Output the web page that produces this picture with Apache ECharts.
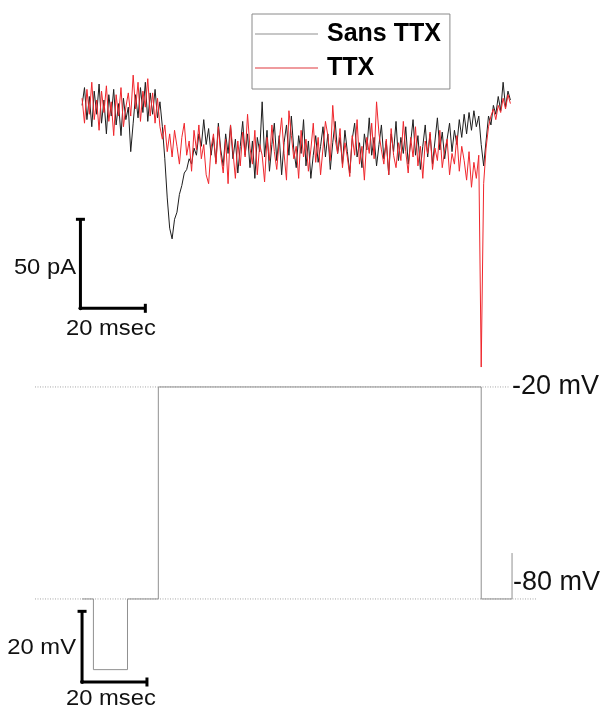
<!DOCTYPE html>
<html>
<head>
<meta charset="utf-8">
<style>
  html, body { margin: 0; padding: 0; background: #fff; }
  #chart { width: 603px; height: 709px; }
</style>
<script src="https://cdn.jsdelivr.net/npm/echarts@6/dist/echarts.min.js"></script>
</head>
<body>
<div id="chart"></div>
<script>
// ---- data ----
const seriesNames = ['Sans TTX', 'TTX'];
const sampleStepMs = 0.75; // sampling interval of the current traces (ms)

// membrane current, pA (black trace, without TTX)
const sansTTX = [
  14, 24, 6, 19, 2, 22, 9, 26, 4, 17,
  -2, 20, 8, 23, 3, 15, -3, 18, 6, 13,
  -12, 4, 20, 7, 24, 10, 27, 5, 21, 9,
  23, 7, 16, 2, -16, -38, -55, -61, -50, -46,
  -36, -31, -24, -22, -16, -19, -10, -14, -2, -9,
  6, -8, 1, -14, -4, -18, 4, -11, -20, -2,
  -13, 3, -16, -5, -24, -9, 5, -14, -2, -21,
  -6, -27, -4, -12, 16, -15, 0, -23, -8, 4,
  -17, -3, -25, -7, 3, -14, 8, -11, -21, -3,
  -13, 6, -20, -6, -27, -14, -3, -18, -9, 2,
  -15, -2, -22, -7, 5, -13, -4, -19, 0, -12,
  -24, -5, 4, -15, -7, -21, -2, -11, 7, -14,
  -4, -20, -8, 3, -16, -6, -25, -2, -12, 5,
  -17, -4, -13, 2, -19, -7, 6, -14, -3, -22,
  -9, 3, -15, -2, -19, -6, 7, -11, -1, -16,
  -5, 4, -12, 0, -8, 6, -4, 9, -2, 10,
  0, 11, 2, 8, -8, -20, -6, 8, 3, 14,
  9, 19, 11, 27, 13, 22, 17
];

// membrane current, pA (red trace, with TTX)
const withTTX = [
  18, 4, 23, 9, 27, 6, 17, 0, 22, 10,
  25, 5, 16, -3, 20, 8, 24, 2, 13, 21,
  8, 31, 12, 27, 5, 22, 13, 29, 8, 21,
  4, 18, 2, -5, 3, -12, -2, -15, 0, -9,
  -19, -4, 4, -14, -6, -23, 0, -11, 3, -16,
  -8, -25, -30, -10, -2, -19, 2, -14, -24, -5,
  -30, 3, -12, -27, -6, -20, -1, -15, 9, -10,
  -19, 0, -25, -8, -14, -29, -4, -17, 3, -12,
  -22, -6, 7, -13, -28, 11, -3, -16, -9, -27,
  0, -15, -5, -23, -11, 4, -18, -4, -25, -10,
  5, -3, -17, 14, -5, -13, 1, -21, -7, -15,
  -26, -3, -14, 6, -19, -9, -28, -4, -13, 4,
  -16, 16, -2, -11, -19, -5, -25, 1, -14, -21,
  -7, -17, 5, -12, -24, -4, -15, 2, -20, -9,
  -27, -6, -13, -1, -22, -10, -17, 0, -21, -11,
  -5, -25, -13, -19, -3, -23, -9, -17, -28, -12,
  -32, -18, -27, -14, -133, -30, -10, 2, 8, 12,
  6, 14, 10, 18, 12, 20, 15
];

// voltage protocol (ms, mV)
const stepTimes = [0, 3.5, 3.5, 14, 14, 23.5, 23.5, 123, 123, 132.5, 132.5];
const stepVolts = [-80, -80, -100, -100, -80, -80, -20, -20, -80, -80, -67];

// dotted holding-level guides
const guideLevels = [-20, -80];
const guideStart = [-14.5, -14.5];
const guideEnd = [131.9, 140.2];

// scale bars
const currentBarPA = 50, currentBarMs = 20;
const voltBarMV = 20, voltBarMs = 20;

// text labels
const levelLabels = ['-20 mV', '-80 mV'];
const currentBarLabels = ['50 pA', '20 msec'];
const voltBarLabels = ['20 mV', '20 msec'];

// ---- build ----
const blackData = sansTTX.map((v, i) => [i * sampleStepMs, v]);
const redData = withTTX.map((v, i) => [i * sampleStepMs, v]);
const stepData = stepTimes.map((t, i) => [t, stepVolts[i]]);

const FONT = "'Liberation Sans', Arial, sans-serif";

const chart = echarts.init(document.getElementById('chart'), null, { renderer: 'canvas' });

const xCommon = { type: 'value', min: -14.5, max: 145, show: false };

const option = {
  animation: false,
  backgroundColor: '#fff',
  grid: [
    { left: 35, width: 517.6, top: 68, height: 311.5 },
    { left: 35, width: 517.6, top: 369.3, bottom: 21.7 }
  ],
  xAxis: [
    Object.assign({ gridIndex: 0 }, xCommon),
    Object.assign({ gridIndex: 1 }, xCommon)
  ],
  yAxis: [
    { gridIndex: 0, type: 'value', min: -140, max: 35, show: false },
    { gridIndex: 1, type: 'value', min: -105, max: -15, show: false }
  ],
  legend: {
    data: [
      { name: seriesNames[0], itemStyle: { color: '#b4b4b4' } },
      { name: seriesNames[1], itemStyle: { color: '#ea7a7e' } }
    ],
    orient: 'vertical',
    left: 252,
    top: 14,
    icon: 'rect',
    itemWidth: 63,
    itemHeight: 1.5,
    itemGap: 9,
    padding: [7.5, 9, 8.5, 3],
    borderColor: '#8a8a8a',
    borderWidth: 1,
    textStyle: {
      fontFamily: FONT, fontSize: 25, fontWeight: 'bold', color: '#000',
      lineHeight: 25, padding: [0, 0, 0, 4]
    }
  },
  series: [
    {
      name: seriesNames[0], type: 'line', xAxisIndex: 0, yAxisIndex: 0,
      data: blackData, symbol: 'none', smooth: false,
      lineStyle: { color: '#1e1e1e', width: 1 }, itemStyle: { color: '#1e1e1e' }, z: 3
    },
    {
      name: seriesNames[1], type: 'line', xAxisIndex: 0, yAxisIndex: 0,
      data: redData, symbol: 'none', smooth: false,
      lineStyle: { color: '#f0262c', width: 1 }, itemStyle: { color: '#f0262c' }, z: 4
    },
    {
      name: 'currentBar', type: 'line', xAxisIndex: 0, yAxisIndex: 0,
      data: [
        { value: [-0.5, -100 + currentBarPA], symbol: 'rect', symbolSize: [9, 3] },
        { value: [-0.5, -100], symbol: 'circle', symbolSize: 4 },
        { value: [-0.5 + currentBarMs, -100], symbol: 'rect', symbolSize: [3, 9] }
      ],
      showSymbol: true, lineStyle: { color: '#000', width: 3 }, itemStyle: { color: '#000' }, z: 5
    },
    ...guideLevels.map((lv, k) => ({
      name: 'guide' + k, type: 'line', xAxisIndex: 1, yAxisIndex: 1,
      data: [[guideStart[k], lv], [guideEnd[k], lv]], symbol: 'none',
      lineStyle: { color: '#a6a6a6', width: 1, type: [1, 1.5] }, z: 2
    })),
    {
      name: 'step', type: 'line', xAxisIndex: 1, yAxisIndex: 1,
      data: stepData, symbol: 'none',
      lineStyle: { color: '#909090', width: 1 }, z: 3
    },
    {
      name: 'voltBar', type: 'line', xAxisIndex: 1, yAxisIndex: 1,
      data: [
        { value: [0, -103.5 + voltBarMV], symbol: 'rect', symbolSize: [9, 3] },
        { value: [0, -103.5], symbol: 'circle', symbolSize: 4 },
        { value: [voltBarMs, -103.5], symbol: 'rect', symbolSize: [3, 9] }
      ],
      showSymbol: true, lineStyle: { color: '#000', width: 3 }, itemStyle: { color: '#000' }, z: 5
    }
  ],
  graphic: {
    elements: [
      { type: 'text', x: 76, y: 268, scaleX: 1.08,
        style: { text: currentBarLabels[0], font: '22px ' + FONT, fill: '#111', textAlign: 'right', textVerticalAlign: 'middle' } },
      { type: 'text', x: 66, y: 329, scaleX: 1.08,
        style: { text: currentBarLabels[1], font: '22px ' + FONT, fill: '#111', textAlign: 'left', textVerticalAlign: 'middle' } },
      { type: 'text', x: 76, y: 648, scaleX: 1.08,
        style: { text: voltBarLabels[0], font: '22px ' + FONT, fill: '#111', textAlign: 'right', textVerticalAlign: 'middle' } },
      { type: 'text', x: 66, y: 699, scaleX: 1.08,
        style: { text: voltBarLabels[1], font: '22px ' + FONT, fill: '#111', textAlign: 'left', textVerticalAlign: 'middle' } },
      { type: 'text', x: 512, y: 387,
        style: { text: levelLabels[0], font: '27px ' + FONT, fill: '#111', textAlign: 'left', textVerticalAlign: 'middle' } },
      { type: 'text', x: 513, y: 583,
        style: { text: levelLabels[1], font: '27px ' + FONT, fill: '#111', textAlign: 'left', textVerticalAlign: 'middle' } }
    ]
  }
};

chart.setOption(option);
</script>
</body>
</html>
